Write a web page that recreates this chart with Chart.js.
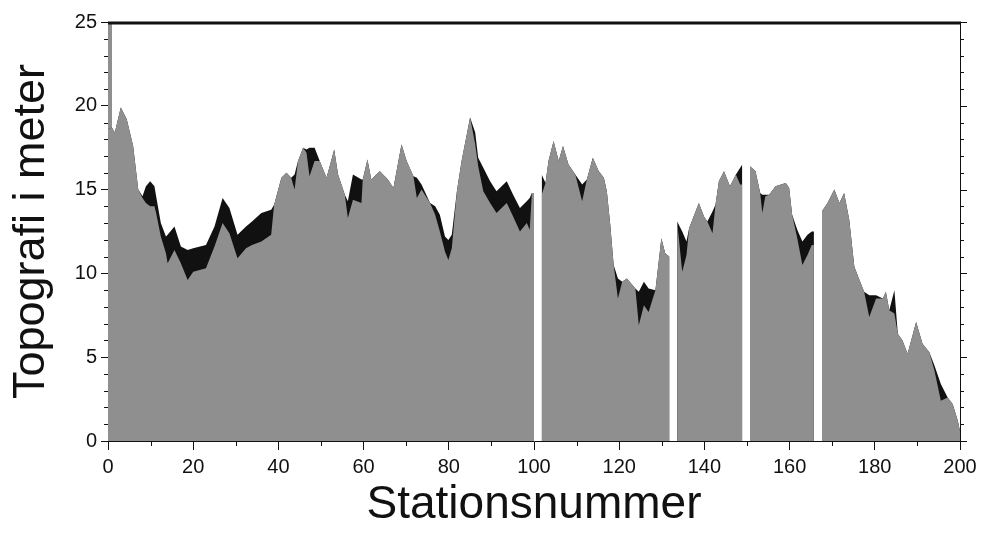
<!DOCTYPE html>
<html>
<head>
<meta charset="utf-8">
<script src="https://cdn.jsdelivr.net/npm/chart.js@4.4.1/dist/chart.umd.min.js"></script>
<style>
  html, body { margin: 0; padding: 0; background: #fff; }
  #wrap { width: 984px; height: 538px; }
</style>
</head>
<body>
<div id="wrap"><canvas id="profile"></canvas></div>
<script>
// station positions along the profile (null rows = no data, white gaps)
const stations = [
  0, 0.9, 1.6, 3.0, 4.4, 5.9, 7.1, 8.1, 8.9, 9.9, 10.9, 11.3, 12.4, 13.6, 14.0, 15.6, 17.1, 18.7, 20.0, 23.0,
  25.0, 26.9, 28.5, 30.4, 32.4, 33.8, 36.0, 38.3, 39.0, 40.7, 41.9, 43.0, 43.8, 44.6, 45.8, 46.6, 47.3, 48.5, 49.7, 51.3,
  53.1, 54.0, 55.6, 56.3, 57.5, 59.5, 59.8, 60.9, 61.8, 63.8, 65.7, 67.0, 68.9, 70.1, 71.7, 72.5, 73.6, 75.6, 76.8, 77.9,
  79.1, 79.9, 80.7, 81.9, 83.0, 85.0, 86.2, 86.9, 88.1, 89.7, 91.2, 93.6, 95.1, 96.7, 98.3, 99.0, 99.5, 100.0,
  100.9,
  101.8, 102.7, 103.4, 104.6, 105.8, 106.8, 108.1, 109.7, 111.3, 112.4, 113.8, 115.2, 116.4, 117.1, 117.9, 118.7, 119.7, 120.7,
  121.8, 123.8, 124.6, 125.8, 126.9, 128.5, 129.9, 130.8, 131.8,
  132.7,
  133.6, 134.8, 135.8, 136.4, 138.7, 139.9, 140.7, 141.9, 142.6, 143.4, 144.6, 146.0, 147.4, 148.4, 148.9,
  149.8,
  150.7, 152.0, 153.1, 153.6, 154.3, 155.2, 156.7, 159.1, 159.9, 160.6, 161.8, 163.0, 164.2, 165.2, 165.7,
  166.6,
  167.6, 168.9, 170.5, 171.7, 172.8, 174.0, 175.2, 176.4, 177.5, 178.7, 180.3, 181.9, 182.6, 183.4, 184.6, 185.4, 186.5,
  187.7, 189.7, 191.2, 192.8, 194.0, 195.5, 197.1, 198.3, 199.5, 200
];

// grey surface
const lowerTopo = [
  18.6, 18.7, 18.4, 19.9, 19.2, 17.6, 15.0, 14.5, 14.2, 14.0, 14.0, 13.6, 12.2, 11.2, 10.6, 11.4, 10.6, 9.6, 10.1, 10.3,
  11.6, 13.0, 12.4, 10.9, 11.5, 11.7, 11.9, 12.3, 14.1, 15.7, 16.0, 15.7, 15.0, 16.7, 17.5, 17.2, 15.8, 16.7, 16.7, 15.7,
  17.4, 15.9, 14.7, 13.3, 14.4, 14.2, 15.6, 16.8, 15.6, 16.1, 15.6, 15.1, 17.7, 16.7, 15.8, 14.5, 15.0, 14.2, 13.5, 12.5,
  11.3, 10.8, 11.5, 14.9, 16.7, 19.3, 17.7, 16.4, 14.9, 14.2, 13.6, 14.2, 13.4, 12.5, 13.0, 12.6, 14.8, 14.8,
  null,
  14.7, 15.4, 16.7, 17.9, 16.7, 17.6, 16.5, 15.9, 14.3, 15.6, 16.9, 16.1, 15.7, 14.9, 12.9, 10.5, 8.5, 9.5,
  9.7, 9.1, 6.9, 8.1, 7.7, 9.0, 12.1, 11.2, 11.0,
  null,
  13.1, 10.1, 11.1, 12.7, 14.2, 13.4, 13.1, 12.4, 14.1, 15.5, 16.1, 15.2, 15.9, 15.3, 15.3,
  null,
  16.4, 16.1, 14.8, 13.6, 14.6, 14.7, 15.2, 15.4, 15.1, 13.5, 12.1, 10.5, 11.1, 11.7, 11.7,
  null,
  13.7, 14.2, 15.0, 14.2, 14.8, 13.2, 10.4, 9.6, 8.9, 7.4, 8.5, 8.5, 8.9, 7.8, 7.6, 6.4, 6.0,
  5.2, 7.1, 5.8, 5.3, 4.2, 2.4, 2.6, 2.2, 1.2, 0.6
];

// black surface (upper envelope)
const upperTopo = [
  18.6, 18.7, 18.4, 19.9, 19.2, 17.6, 15.0, 14.6, 15.2, 15.5, 15.2, 14.6, 13.0, 12.2, 12.3, 12.8, 11.6, 11.4, 11.5, 11.7,
  12.8, 14.5, 13.9, 12.3, 12.8, 13.1, 13.6, 13.8, 14.1, 15.7, 16.0, 15.7, 15.9, 16.7, 17.5, 17.4, 17.5, 17.5, 16.7, 15.7,
  17.4, 15.9, 14.7, 14.3, 15.9, 15.6, 15.6, 16.8, 15.6, 16.1, 15.6, 15.1, 17.7, 16.7, 15.8, 15.7, 15.3, 14.2, 14.0, 13.5,
  12.2, 12.0, 12.3, 14.9, 16.7, 19.3, 18.4, 16.9, 16.3, 15.5, 14.9, 15.5, 14.7, 13.9, 14.3, 14.5, 14.8, 14.8,
  null,
  15.9, 15.4, 16.7, 17.9, 16.7, 17.6, 16.5, 15.9, 15.3, 15.6, 16.9, 16.1, 15.7, 14.9, 12.9, 10.5, 9.7, 9.5,
  9.7, 9.1, 8.9, 9.5, 9.1, 9.0, 12.1, 11.2, 11.0,
  null,
  13.1, 12.5, 11.9, 12.7, 14.2, 13.4, 13.1, 13.7, 14.1, 15.5, 16.1, 15.2, 15.9, 16.3, 16.5,
  null,
  16.4, 16.1, 14.8, 14.7, 14.7, 14.7, 15.2, 15.4, 15.1, 13.5, 12.6, 11.9, 12.3, 12.5, 12.5,
  null,
  13.7, 14.2, 15.0, 14.2, 14.8, 13.2, 10.4, 9.6, 8.9, 8.7, 8.7, 8.5, 8.9, 7.8, 9.0, 6.4, 6.0,
  5.2, 7.1, 5.8, 5.3, 4.5, 3.4, 2.6, 2.2, 1.2, 0.6
];

const xMajor = [0, 20, 40, 60, 80, 100, 120, 140, 160, 180, 200];
const yMajor = [0, 5, 10, 15, 20, 25];

const GREY = '#8f8f8f';
const INK = '#111111';
const FONT = "'Liberation Sans', Arial, Helvetica, sans-serif";

// minor ticks, right/top frame and the grey strip at the left edge
const framePlugin = {
  id: 'frame',
  beforeDatasetsDraw(chart) {
    const { ctx, chartArea: a } = chart;
    ctx.save();
    ctx.fillStyle = GREY;
    ctx.fillRect(a.left, a.top, 4, a.bottom - a.top);
    ctx.restore();
  },
  afterDraw(chart) {
    const { ctx, chartArea: a, scales } = chart;
    const x = scales.x, y = scales.y;
    ctx.save();
    ctx.strokeStyle = INK;
    ctx.lineWidth = 1;
    ctx.beginPath();
    for (let v = 10; v < 200; v += 20) {
      const px = Math.round(x.getPixelForValue(v)) + 0.5;
      ctx.moveTo(px, a.bottom);
      ctx.lineTo(px, a.bottom + 5);
    }
    for (let v = 0; v <= 25; v++) {
      const py = Math.round(y.getPixelForValue(v)) + 0.5;
      const len = v % 5 === 0 ? 7 : 4;
      if (v % 5 !== 0) {
        ctx.moveTo(a.left, py);
        ctx.lineTo(a.left - len, py);
      }
      ctx.moveTo(a.right, py);
      ctx.lineTo(a.right + len, py);
    }
    ctx.moveTo(a.right + 0.5, a.top);
    ctx.lineTo(a.right + 0.5, a.bottom);
    ctx.stroke();
    ctx.lineWidth = 3;
    ctx.beginPath();
    ctx.moveTo(a.left, a.top + 1);
    ctx.lineTo(a.right + 1, a.top + 1);
    ctx.stroke();
    ctx.restore();
  }
};

const points = (vals) => stations.map((s, i) => ({ x: s, y: vals[i] }));

new Chart(document.getElementById('profile'), {
  type: 'line',
  data: {
    datasets: [
      {
        label: 'grey',
        data: points(lowerTopo),
        backgroundColor: GREY,
        borderWidth: 0,
        pointRadius: 0,
        fill: 'origin',
        spanGaps: false
      },
      {
        label: 'black',
        data: points(upperTopo),
        backgroundColor: INK,
        borderWidth: 0,
        pointRadius: 0,
        fill: 'origin',
        spanGaps: false
      }
    ]
  },
  options: {
    responsive: true,
    maintainAspectRatio: false,
    animation: false,
    layout: { padding: { top: 22, right: 24, left: 0, bottom: 0 } },
    plugins: { legend: { display: false }, tooltip: { enabled: false } },
    scales: {
      x: {
        type: 'linear',
        min: 0,
        max: 200,
        afterBuildTicks: (s) => { s.ticks = xMajor.map(v => ({ value: v })); },
        afterFit: (s) => { s.height = 97; },
        ticks: { font: { family: FONT, size: 20 }, color: INK, padding: 5, maxRotation: 0 },
        grid: { drawOnChartArea: false, tickLength: 9, color: INK },
        border: { color: INK, width: 1 },
        title: {
          display: true,
          text: 'Stationsnummer',
          color: INK,
          font: { family: FONT, size: 46, lineHeight: 1 },
          padding: { top: 0, bottom: 10 }
        }
      },
      y: {
        min: 0,
        max: 25,
        afterBuildTicks: (s) => { s.ticks = yMajor.map(v => ({ value: v })); },
        afterFit: (s) => { s.width = 108; },
        ticks: { font: { family: FONT, size: 20 }, color: INK, padding: 4 },
        grid: { drawOnChartArea: false, tickLength: 7, color: INK },
        border: { color: INK, width: 1 },
        title: {
          display: true,
          text: 'Topografi i meter',
          color: INK,
          font: { family: FONT, size: 45, lineHeight: 1 },
          padding: { top: 9, bottom: 0 }
        }
      }
    }
  },
  plugins: [framePlugin]
});
</script>
</body>
</html>
